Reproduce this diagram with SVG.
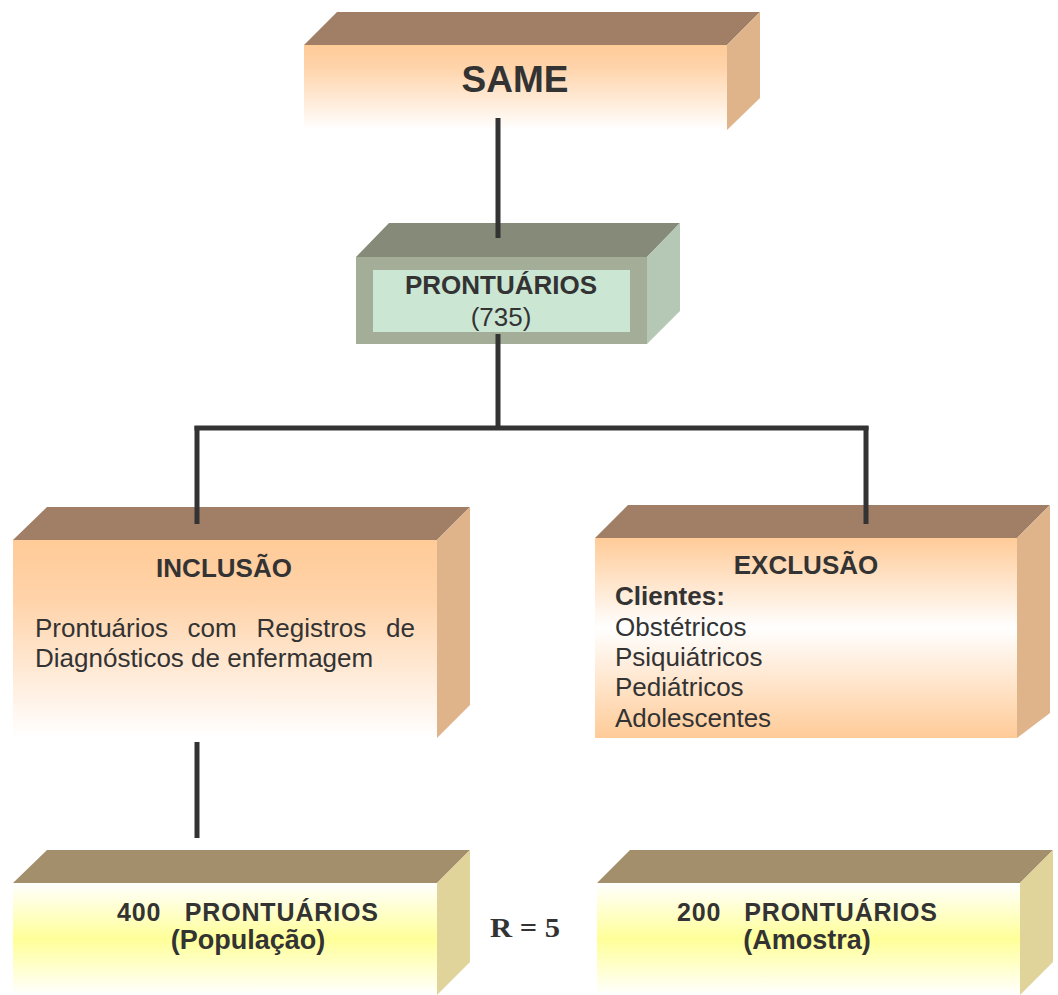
<svg xmlns="http://www.w3.org/2000/svg" width="1058" height="995" viewBox="0 0 1058 995">
<defs>
<linearGradient id="gSame" x1="0" y1="0" x2="0" y2="1">
<stop offset="0" stop-color="#FFCB98"/><stop offset="0.25" stop-color="#FFD3A9"/><stop offset="1" stop-color="#FFFFFF"/>
</linearGradient>
<linearGradient id="gInc" x1="0" y1="0" x2="0" y2="1">
<stop offset="0" stop-color="#FFCB98"/><stop offset="0.3" stop-color="#FFD3A9"/><stop offset="1" stop-color="#FFFFFF"/>
</linearGradient>
<linearGradient id="gExc" x1="0" y1="0" x2="0" y2="1">
<stop offset="0" stop-color="#FFCB98"/><stop offset="0.45" stop-color="#FFFFFF"/><stop offset="1" stop-color="#FFCB98"/>
</linearGradient>
<linearGradient id="gYel" x1="0" y1="0" x2="0" y2="1">
<stop offset="0" stop-color="#FFFFFF"/><stop offset="0.5" stop-color="#FFFF99"/><stop offset="1" stop-color="#FFFFFF"/>
</linearGradient>
<style>
.top{fill:#A07F66}
.side{fill:#DFB48A}
.gtop{fill:#868A78}
.gside{fill:#B5C8B5}
.ytop{fill:#A38F6C}
.yside{fill:#E0D49A}
.t{font-family:"Liberation Sans",Arial,sans-serif;fill:#333333}
.b{font-weight:bold}
.link{stroke:#333333;stroke-width:5;fill:none}
</style>
</defs>

<g id="same">
<polygon class="top" points="304,45 337,12 760,12 727,45"/>
<polygon class="side" points="727,45 760,12 760,98 727,130"/>
<rect x="304" y="45" width="423" height="85" fill="url(#gSame)"/>
<text class="t b" x="515" y="92" font-size="37" text-anchor="middle">SAME</text>
</g>

<g id="prontuarios">
<polygon class="gtop" points="356,257 389,223 680,223 647,257"/>
<polygon class="gside" points="647,257 680,223 680,311 647,344"/>
<rect x="356" y="257" width="291" height="87" fill="#A3AD98"/>
<rect x="373" y="270" width="257" height="62" fill="#CCE6D4"/>
<text class="t b" x="501" y="294" font-size="26" text-anchor="middle">PRONTUÁRIOS</text>
<text class="t" x="501" y="326" font-size="26" text-anchor="middle">(735)</text>
</g>

<g id="inclusao">
<polygon class="top" points="13,540 47,507 470,507 437,540"/>
<polygon class="side" points="437,540 470,507 470,705 437,738"/>
<rect x="13" y="540" width="424" height="198" fill="url(#gInc)"/>
<text class="t b" x="224" y="577" font-size="26" text-anchor="middle">INCLUSÃO</text>
<text class="t" y="637" font-size="26"><tspan x="35">Prontuários</tspan><tspan x="187.5">com</tspan><tspan x="256.5">Registros</tspan><tspan x="386">de</tspan></text>
<text class="t" x="35" y="667" font-size="26">Diagnósticos de enfermagem</text>
</g>

<g id="exclusao">
<polygon class="top" points="595,538 628,505 1050,505 1017,538"/>
<polygon class="side" points="1017,538 1050,505 1050,713 1017,738"/>
<rect x="595" y="538" width="422" height="200" fill="url(#gExc)"/>
<text class="t b" x="806" y="574" font-size="26" text-anchor="middle">EXCLUSÃO</text>
<text class="t b" x="615" y="605" font-size="26">Clientes:</text>
<text class="t" x="615" y="636" font-size="26">Obstétricos</text>
<text class="t" x="615" y="666" font-size="26">Psiquiátricos</text>
<text class="t" x="615" y="696" font-size="26">Pediátricos</text>
<text class="t" x="615" y="727" font-size="26">Adolescentes</text>
</g>

<g id="populacao">
<polygon class="ytop" points="13,883 47,850 470,850 437,883"/>
<polygon class="yside" points="437,883 470,850 470,962 437,995"/>
<rect x="13" y="883" width="424" height="112" fill="url(#gYel)"/>
<text class="t b" x="247.5" y="921" font-size="25" text-anchor="middle" textLength="261" lengthAdjust="spacing" xml:space="preserve">400   PRONTUÁRIOS</text>
<text class="t b" x="248" y="949" font-size="27" text-anchor="middle">(População)</text>
</g>

<g id="razao">
<text x="525" y="937" font-family="Liberation Serif,'Times New Roman',serif" font-weight="bold" font-size="27" fill="#333333" text-anchor="middle" textLength="70" lengthAdjust="spacingAndGlyphs">R = 5</text>
</g>

<g id="amostra">
<polygon class="ytop" points="597,883 630,850 1053,850 1020,883"/>
<polygon class="yside" points="1020,883 1053,850 1053,962 1020,995"/>
<rect x="597" y="883" width="423" height="112" fill="url(#gYel)"/>
<text class="t b" x="807" y="921" font-size="25" text-anchor="middle" textLength="260" lengthAdjust="spacing" xml:space="preserve">200   PRONTUÁRIOS</text>
<text class="t b" x="807" y="949" font-size="27" text-anchor="middle">(Amostra)</text>
</g>

<g id="connectors">
<line class="link" x1="498" y1="118" x2="498" y2="238"/>
<line class="link" x1="498" y1="334" x2="498" y2="428"/>
<line class="link" x1="194.5" y1="428" x2="868.5" y2="428"/>
<line class="link" x1="197" y1="426" x2="197" y2="524"/>
<line class="link" x1="866" y1="426" x2="866" y2="524"/>
<line class="link" x1="197" y1="742" x2="197" y2="838"/>
</g>
</svg>
